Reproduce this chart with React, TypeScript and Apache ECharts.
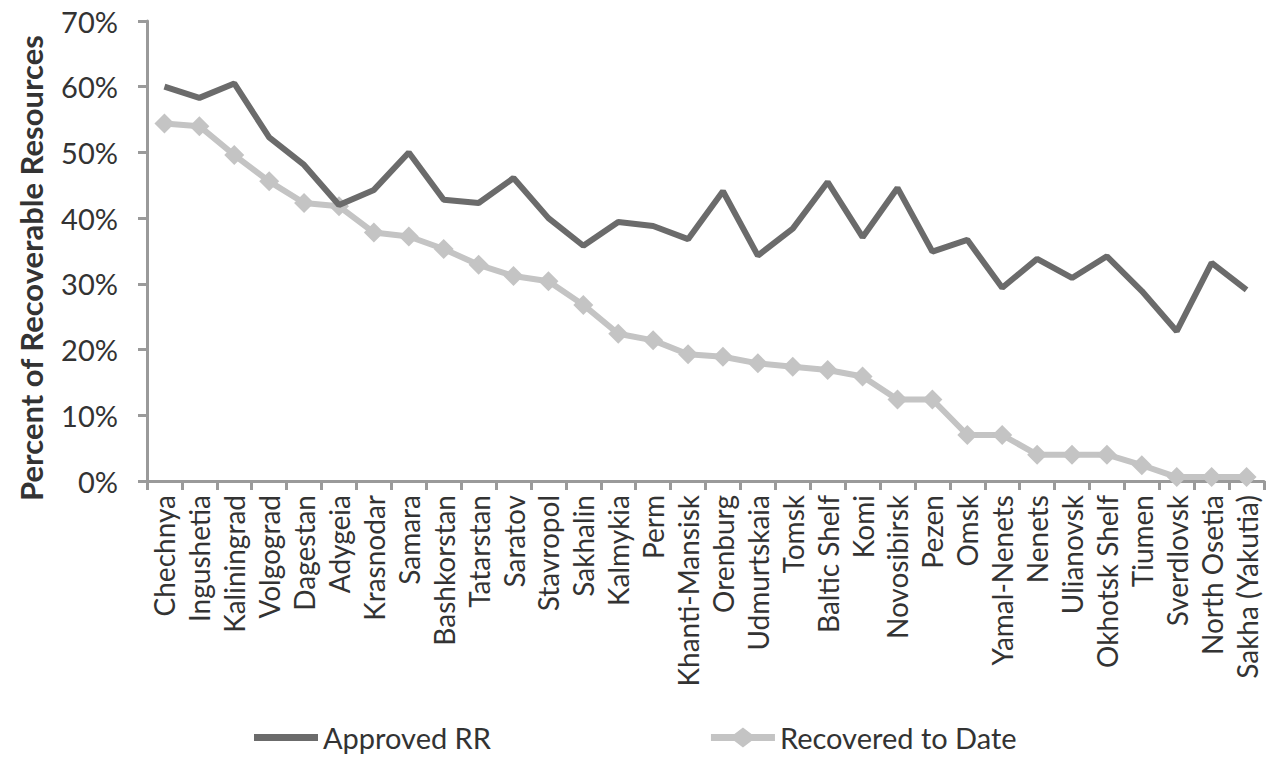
import React, { useEffect, useRef } from "react";
import * as echarts from "echarts";

const categories = [
  "Chechnya", "Ingushetia", "Kaliningrad", "Volgograd", "Dagestan", "Adygeia",
  "Krasnodar", "Samara", "Bashkorstan", "Tatarstan", "Saratov", "Stavropol",
  "Sakhalin", "Kalmykia", "Perm", "Khanti-Mansisk", "Orenburg", "Udmurtskaia",
  "Tomsk", "Baltic Shelf", "Komi", "Novosibirsk", "Pezen", "Omsk",
  "Yamal-Nenets", "Nenets", "Ulianovsk", "Okhotsk Shelf", "Tiumen",
  "Sverdlovsk", "North Osetia", "Sakha (Yakutia)",
];

const approvedRR = [
  60.0, 58.3, 60.5, 52.3, 48.1, 42.0, 44.3, 50.0, 42.8, 42.3, 46.1, 40.0,
  35.8, 39.4, 38.8, 36.8, 44.1, 34.3, 38.4, 45.5, 37.1, 44.6, 34.9, 36.7,
  29.4, 33.8, 30.9, 34.2, 28.9, 22.8, 33.2, 29.1,
];

const recoveredToDate = [
  54.4, 54.0, 49.6, 45.6, 42.3, 41.8, 37.8, 37.2, 35.3, 32.9, 31.2, 30.4,
  26.8, 22.4, 21.4, 19.3, 18.9, 17.9, 17.4, 16.9, 15.9, 12.4, 12.4, 7.0,
  7.0, 4.0, 4.0, 4.0, 2.4, 0.6, 0.6, 0.6,
];

const seriesNames = ["Approved RR", "Recovered to Date"];
const yAxisTitle = "Percent of Recoverable Resources";

const FONT = "Lato";

export default function App() {
  const ref = useRef<HTMLDivElement>(null);

  useEffect(() => {
    if (!ref.current) return;
    const chart = echarts.init(ref.current, undefined, { renderer: "svg" });
    chart.setOption({
      animation: false,
      backgroundColor: "#ffffff",
      textStyle: { fontFamily: FONT },
      grid: { left: 147, right: 5, top: 21, bottom: 279, containLabel: false },
      legend: {
        left: 249,
        top: 718,
        itemWidth: 64,
        itemHeight: 20,
        itemGap: 220,
        textStyle: { fontSize: 29, color: "#333333", fontFamily: FONT },
        data: [
          {
            name: seriesNames[0],
            icon: "path://M0,0H64V0.02H0Z M0,6.5H64V13.5H0Z M0,19.98H64V20H0Z",
          },
          {
            name: seriesNames[1],
            icon: "path://M0,6.5H23.5L32,0L40.5,6.5H64V13.5H40.5L32,20L23.5,13.5H0Z",
          },
        ],
      },
      graphic: [
        {
          type: "text",
          x: 31,
          y: 268,
          rotation: Math.PI / 2,
          style: {
            text: yAxisTitle,
            fontFamily: FONT,
            fontSize: 31,
            fontWeight: "bold",
            fill: "#333333",
            align: "center",
            verticalAlign: "middle",
          },
        },
      ],
      xAxis: {
        type: "category",
        data: categories,
        boundaryGap: true,
        axisLine: { lineStyle: { color: "#9a9a9a", width: 3 } },
        axisTick: {
          show: true,
          alignWithLabel: false,
          length: 9,
          lineStyle: { color: "#9a9a9a", width: 3 },
        },
        axisLabel: {
          interval: 0,
          rotate: 90,
          margin: 14,
          fontSize: 28,
          color: "#333333",
          fontFamily: FONT,
        },
      },
      yAxis: {
        type: "value",
        min: 0,
        max: 70,
        interval: 10,
        axisLine: { show: true, lineStyle: { color: "#9a9a9a", width: 3 } },
        axisTick: { show: true, length: 9, lineStyle: { color: "#9a9a9a", width: 3 } },
        splitLine: { show: false },
        axisLabel: {
          formatter: "{value}%",
          margin: 29,
          fontSize: 29,
          color: "#333333",
          fontFamily: FONT,
        },
      },
      series: [
        {
          name: seriesNames[0],
          type: "line",
          data: approvedRR,
          symbol: "none",
          lineStyle: { color: "#6b6b6b", width: 6 },
          itemStyle: { color: "#6b6b6b" },
          z: 3,
        },
        {
          name: seriesNames[1],
          type: "line",
          data: recoveredToDate,
          symbol: "diamond",
          symbolSize: 20,
          lineStyle: { color: "#c4c4c4", width: 6 },
          itemStyle: { color: "#c4c4c4" },
          z: 2,
        },
      ],
    });
    return () => chart.dispose();
  }, []);

  return <div ref={ref} style={{ width: 1269, height: 760, position: "absolute", left: 0, top: 0 }} />;
}
